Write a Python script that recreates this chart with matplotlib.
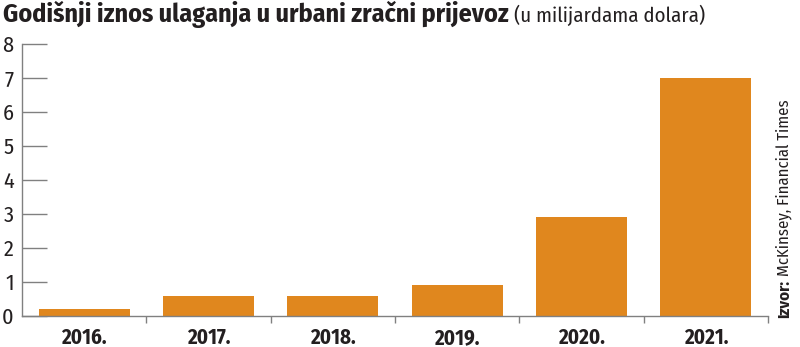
import matplotlib
matplotlib.use("Agg")
import matplotlib.pyplot as plt

years = ["2016.", "2017.", "2018.", "2019.", "2020.", "2021."]
investment = [0.2, 0.6, 0.6, 0.9, 2.9, 7.0]
y_ticks = [0, 1, 2, 3, 4, 5, 6, 7, 8]

font = ["Fira Sans Condensed", "DejaVu Sans"]
bar_color = "#e0871e"
text_color = "#231f20"
axis_color = "#808080"

fig = plt.figure(figsize=(8, 3.47), dpi=100)
W, H = 800, 347
left, right, top, bottom = 22, 768, 44, 316
ax = fig.add_axes([left / W, 1 - bottom / H, (right - left) / W, (bottom - top) / H])

x = list(range(len(years)))
ax.bar(x, investment, width=0.73, color=bar_color, zorder=2)
ax.set_xlim(-0.5, len(years) - 0.5)
ax.set_ylim(0, 8)

for s in ["top", "right"]:
    ax.spines[s].set_visible(False)
for s in ["left", "bottom"]:
    ax.spines[s].set_color(axis_color)
    ax.spines[s].set_linewidth(1.0)

ax.set_yticks(y_ticks)
ax.set_yticklabels([str(v) for v in y_ticks], family=font, fontweight="normal",
                   fontsize=16, color=text_color)
ax.tick_params(axis="y", direction="in", length=18, width=1.0, color=axis_color, pad=6)

ax.set_xticks([i + 0.5 for i in x])
ax.set_xticklabels([])
ax.tick_params(axis="x", direction="out", length=5, width=1.0, color=axis_color)
for i, yr in enumerate(years):
    ax.text(i, -0.33, yr, ha="center", va="top", family=font, fontweight="bold",
            fontsize=15, color=text_color, clip_on=False)

fig.canvas.draw()
renderer = fig.canvas.get_renderer()

title = fig.text(3 / W, 1 - 22 / H, "Godišnji iznos ulaganja u urbani zračni prijevoz",
                 family=font, fontweight="bold", fontsize=18.7, color=text_color,
                 va="baseline")
bb = title.get_window_extent(renderer)
fig.text((bb.x1 + 5) / W, 1 - 22 / H, "(u milijardama dolara)",
         family=font, fontweight="normal", fontsize=15, color=text_color, va="baseline")

src_x = 792 / W
lab = fig.text(src_x, 1 - 318 / H, "Izvor:", rotation=90, family=font, fontweight="bold",
               fontsize=12, color=text_color, ha="left", va="bottom",
               rotation_mode="anchor")
lb = lab.get_window_extent(renderer)
fig.text(src_x, (lb.y1 + 4) / H, "McKinsey, Financial Times", rotation=90, family=font,
         fontweight="normal", fontsize=12, color=text_color, ha="left", va="bottom",
         rotation_mode="anchor")

fig.savefig("out.png", dpi=100)
